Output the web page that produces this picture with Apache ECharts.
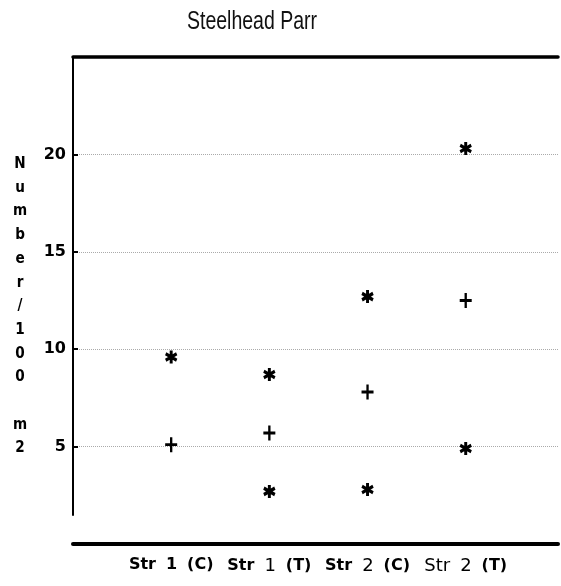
<!DOCTYPE html>
<html>
<head>
<meta charset="utf-8">
<script src="https://cdn.jsdelivr.net/npm/echarts@6/dist/echarts.min.js"></script>
<style>
  html, body { margin: 0; padding: 0; background: #fff; }
  #chart { width: 561px; height: 586px; }
</style>
</head>
<body>
<div id="chart"></div>
<script>
// stream positions on the x axis (1..4)
const categories = ['Str 1 (C)', 'Str 1 (T)', 'Str 2 (C)', 'Str 2 (T)'];
// which words of each label are bold (1) or plain (0)
const labelBold = [[1, 1, 1], [1, 0, 1], [1, 0, 1], [0, 0, 1]];

// "+" markers
const plusValues = [5.1, 5.7, 7.8, 12.5];
// "*" markers, upper and lower
const starHigh = [9.6, 8.7, 12.7, 20.3];
const starLow = [null, 2.7, 2.8, 4.9];

const yTicks = [0, 5, 10, 15, 20, 25];
const titleText = 'Steelhead Parr';

const toPoints = arr => arr.map((v, i) => v == null ? null : [i + 1, v]).filter(p => p);

const starPath = 'path://M0,-6L0,6M-5.2,-3L5.2,3M-5.2,3L5.2,-3';
const plusPath = 'path://M0,-7L0,7M-6,0L6,0';

const chart = echarts.init(document.getElementById('chart'));

const yNameText = ['N', 'u', 'm', 'b', 'e', 'r', '/', '1', '0', '0', ' ', 'm', '2'].join('\n');

const option = {
  animation: false,
  grid: [
    { left: 73, right: 0, top: 57, bottom: 42 },
    { left: 73, right: 0, top: 57, bottom: 71 }
  ],
  xAxis: [
    {
      type: 'value',
      gridIndex: 0,
      min: 0,
      max: 4.94,
      interval: 1,
      axisLine: { show: true, lineStyle: { color: '#000', width: 4 } },
      axisTick: { show: false },
      splitLine: { show: false },
      axisLabel: {
        margin: 13,
        formatter: v => {
          const i = Math.round(v) - 1;
          if (Math.abs(v - Math.round(v)) > 0.01 || i < 0 || i >= categories.length) return '';
          const words = categories[i].split(' ');
          return words.map((w, k) => (labelBold[i][k] ? '{b|' : '{r|') + w + '}').join('{s| }');
        },
        rich: {
          b: { fontFamily: 'DejaVu Sans', fontWeight: 'bold', fontSize: 16, color: '#000' },
          r: { fontFamily: 'DejaVu Sans', fontWeight: 'normal', fontSize: 18, color: '#000' },
          s: { fontSize: 16, width: 10 }
        }
      }
    },
    {
      type: 'value',
      gridIndex: 0,
      position: 'top',
      min: 0,
      max: 4.94,
      axisLine: { show: true, lineStyle: { color: '#000', width: 3.5 } },
      axisTick: { show: false },
      axisLabel: { show: false },
      splitLine: { show: false }
    },
    {
      type: 'value',
      gridIndex: 1,
      show: false,
      min: 0,
      max: 1
    }
  ],
  yAxis: [
    {
      type: 'value',
      gridIndex: 0,
      min: yTicks[0],
      max: yTicks[yTicks.length - 1],
      interval: 5,
      axisLine: { show: false },
      axisTick: { show: true, inside: true, length: 5, lineStyle: { color: '#000', width: 2 } },
      axisLabel: {
        margin: 7,
        fontFamily: 'DejaVu Sans',
        fontWeight: 'bold',
        fontSize: 16,
        color: '#000',
        formatter: v => (v === 0 || v === 25) ? '' : String(v)
      },
      splitLine: { show: true, lineStyle: { color: '#aaa', type: 'dotted', width: 1 } }
    },
    {
      type: 'value',
      gridIndex: 1,
      min: 0,
      max: 1,
      axisLine: { show: true, lineStyle: { color: '#000', width: 2 } },
      axisTick: { show: false },
      axisLabel: { show: false },
      splitLine: { show: false }
    }
  ],
  graphic: [
    {
      type: 'text',
      x: 252,
      y: 22,
      scaleX: 0.78,
      style: {
        text: titleText,
        textAlign: 'center',
        textVerticalAlign: 'middle',
        fontFamily: 'Liberation Sans, sans-serif',
        fontSize: 25,
        fill: '#111'
      }
    },
    {
      type: 'text',
      x: 20,
      y: 152,
      scaleX: 0.85,
      style: {
        text: yNameText,
        textAlign: 'center',
        fontFamily: 'DejaVu Sans',
        fontWeight: 'bold',
        fontSize: 16,
        lineHeight: 23.7,
        fill: '#000'
      }
    }
  ],
  series: [
    {
      name: 'plus',
      type: 'scatter',
      xAxisIndex: 0,
      yAxisIndex: 0,
      symbol: plusPath,
      symbolSize: [12, 15],
      itemStyle: { color: 'none', borderColor: '#000', borderWidth: 2.6, opacity: 1 },
      data: toPoints(plusValues)
    },
    {
      name: 'star high',
      type: 'scatter',
      xAxisIndex: 0,
      yAxisIndex: 0,
      symbol: starPath,
      symbolSize: [11, 13],
      itemStyle: { color: 'none', borderColor: '#000', borderWidth: 3.2, opacity: 1 },
      data: toPoints(starHigh)
    },
    {
      name: 'star low',
      type: 'scatter',
      xAxisIndex: 0,
      yAxisIndex: 0,
      symbol: starPath,
      symbolSize: [11, 13],
      itemStyle: { color: 'none', borderColor: '#000', borderWidth: 3.2, opacity: 1 },
      data: toPoints(starLow)
    }
  ]
};

chart.setOption(option);
</script>
</body>
</html>
